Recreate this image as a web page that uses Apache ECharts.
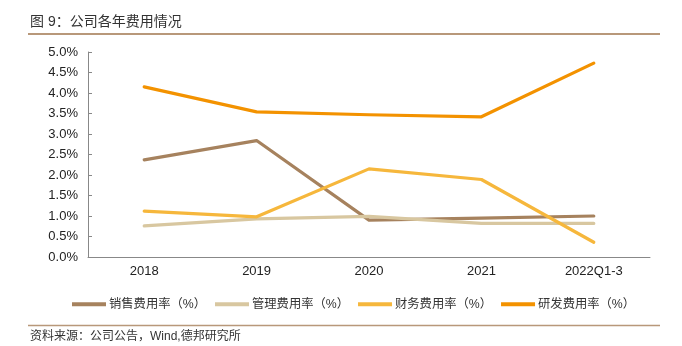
<!DOCTYPE html>
<html>
<head>
<meta charset="utf-8">
<style>
html,body{margin:0;padding:0;background:#fff;}
#chart{width:682px;height:346px;}
</style>
<script src="https://cdn.jsdelivr.net/npm/echarts@6/dist/echarts.min.js"></script>
</head>
<body>
<div id="chart"></div>
<script>
var categories = ['2018', '2019', '2020', '2021', '2022Q1-3'];
var seriesNames = ['销售费用率（%）', '管理费用率（%）', '财务费用率（%）', '研发费用率（%）'];
var salesRate = [2.37, 2.84, 0.90, 0.95, 1.00];
var adminRate = [0.76, 0.93, 0.99, 0.82, 0.82];
var financeRate = [1.12, 0.98, 2.15, 1.89, 0.36];
var rdRate = [4.15, 3.54, 3.47, 3.42, 4.73];
var yTicks = {min: 0, max: 5, interval: 0.5};
var titleText = '图 9：公司各年费用情况';
var sourceText = '资料来源：公司公告，Wind,德邦研究所';

var colors = ['#A6825E', '#D8C7A0', '#F6B73C', '#F39200'];
var FONT = 'Liberation Sans, Arial, "Noto Sans CJK SC", sans-serif';
var chart = echarts.init(document.getElementById('chart'), null, {renderer: 'canvas'});

function mk(name, data, color) {
  return {
    name: name, type: 'line', data: data,
    symbol: 'none', smooth: false,
    lineStyle: {color: color, width: 3.2, cap: 'round', join: 'round'},
    itemStyle: {color: color},
    emphasis: {disabled: true}
  };
}

chart.setOption({
  animation: false,
  textStyle: {fontFamily: FONT},
  grid: {left: 88, right: 32, top: 52, bottom: 89, containLabel: false},
  legend: {
    left: 67, top: 293,
    itemWidth: 34, itemHeight: 4, itemGap: 9,
    icon: 'rect',
    textStyle: {fontSize: 12.3, color: '#333', fontFamily: FONT, padding: [0, 0, 0, -2]},
    data: seriesNames
  },
  xAxis: {
    type: 'category', data: categories, boundaryGap: true,
    axisLine: {lineStyle: {color: '#888', width: 1}},
    axisTick: {inside: true, length: 6, lineStyle: {color: '#888'}},
    axisLabel: {fontSize: 13, color: '#222', margin: 8, fontFamily: FONT},
    splitLine: {show: false}
  },
  yAxis: {
    type: 'value', min: yTicks.min, max: yTicks.max, interval: yTicks.interval,
    axisLine: {show: true, lineStyle: {color: '#888', width: 1}},
    axisTick: {show: true, inside: true, length: 4, lineStyle: {color: '#888'}},
    axisLabel: {fontSize: 13, color: '#222', margin: 10, fontFamily: FONT,
      formatter: function (v) { return v.toFixed(1) + '%'; }},
    splitLine: {show: false}
  },
  series: [
    mk(seriesNames[0], salesRate, colors[0]),
    mk(seriesNames[1], adminRate, colors[1]),
    mk(seriesNames[2], financeRate, colors[2]),
    mk(seriesNames[3], rdRate, colors[3])
  ],
  graphic: [
    {type: 'text', left: 30, top: 15, style: {text: titleText, fontSize: 14, fill: '#333', fontFamily: FONT}},
    {type: 'line', shape: {x1: 28, y1: 34, x2: 660, y2: 34}, style: {stroke: '#B8987A', lineWidth: 2}},
    {type: 'line', shape: {x1: 28, y1: 325.5, x2: 660, y2: 325.5}, style: {stroke: '#B8987A', lineWidth: 1.5}},
    {type: 'text', left: 30, top: 331, style: {text: sourceText, fontSize: 12, fill: '#333', fontFamily: FONT}}
  ]
});
</script>
</body>
</html>
